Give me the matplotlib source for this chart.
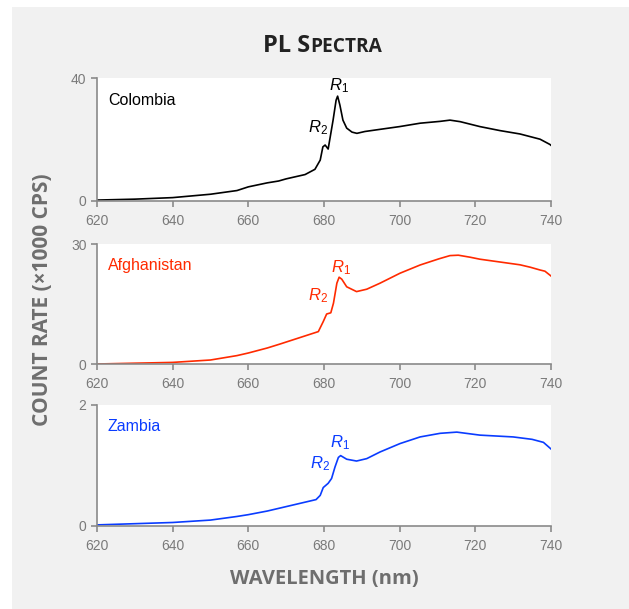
import numpy as np
import matplotlib.pyplot as plt
from matplotlib.patches import Rectangle

# PL spectra for three localities (count rate in units of 1000 cps)
colombia_nm = [620, 630, 640, 650, 657, 660, 665, 668, 670, 675, 677.6, 679, 679.7,
               680.3, 681.1, 682.4, 683.2, 683.6, 684.2, 685, 686, 687.4, 688.7,
               690.8, 694.8, 700, 705.4, 710.7, 713.3, 716, 721.2, 726.5, 731.8,
               737.1, 739.7, 740]
colombia_cps = [0.3, 0.6, 1.1, 2.2, 3.4, 4.6, 5.9, 6.5, 7.2, 8.6, 10.3, 13.3, 17.6,
                18.2, 16.9, 26.3, 32.8, 34.1, 31.2, 26.3, 23.7, 22.4, 22.0,
                22.6, 23.3, 24.2, 25.3, 25.9, 26.3, 25.8, 24.2, 22.9, 21.8,
                20.1, 18.4, 18.1]

afghan_nm = [620, 640, 650, 657, 660, 665, 668.4, 678.5, 679.8, 680.7, 681.8, 682.5,
             683.4, 684.0, 684.7, 686.0, 688.6, 691.3, 694.8, 700.1, 705.4, 710.4,
             713.3, 715.5, 718.6, 721.2, 726.5, 731.8, 734.5, 737.1, 738.4, 740]
afghan_cps = [0.0, 0.4, 1.0, 2.1, 2.75, 4.0, 5.0, 8.1, 10.6, 12.5, 12.8, 15.2,
              20.2, 21.7, 21.2, 19.3, 18.1, 18.7, 20.2, 22.7, 24.75, 26.3,
              27.1, 27.2, 26.7, 26.2, 25.5, 24.8, 24.2, 23.5, 23.2, 22.0]

zambia_nm = [620, 640, 650, 657, 660, 665, 668.4, 677.9, 679.0, 679.8, 681.1, 682.0,
             682.9, 683.8, 684.4, 686.0, 688.6, 691.3, 694.8, 700.1, 705.4, 710.7,
             715.1, 721.2, 730, 735, 738, 740]
zambia_cps = [0.01, 0.05, 0.09, 0.15, 0.18, 0.24, 0.29, 0.43, 0.50, 0.63, 0.70, 0.78,
              0.97, 1.13, 1.16, 1.10, 1.07, 1.11, 1.22, 1.36, 1.47, 1.53,
              1.55, 1.50, 1.47, 1.43, 1.38, 1.27]

samples = ['Colombia', 'Afghanistan', 'Zambia']
colors = ['#000000', '#ff2a00', '#0a3cff']
y_max = [40, 30, 2]
# label positions for the R1 / R2 lines: (x, y) in data units
r1_pos = [(684.0, 37.4), (684.6, 24.2), (684.3, 1.38)]
r2_pos = [(678.4, 23.7), (678.4, 17.0), (678.9, 1.02)]

plt.rcParams['mathtext.fontset'] = 'custom'
plt.rcParams['mathtext.rm'] = 'Liberation Sans'
plt.rcParams['mathtext.it'] = 'Liberation Sans:italic'

fig = plt.figure(figsize=(6.29, 6.09), dpi=100, facecolor='white')
fig.patches.append(Rectangle((12 / 629, 0), 1, 1 - 7 / 609, transform=fig.transFigure,
                             facecolor='#f1f1f1', edgecolor='none', zorder=-10))

grey = '#8a8a8a'
left, width = 97 / 629, 454 / 629
boxes = [(78, 201), (244, 364), (405, 525.5)]
data = [(colombia_nm, colombia_cps), (afghan_nm, afghan_cps), (zambia_nm, zambia_cps)]

for i in range(3):
    top, bottom = boxes[i]
    ax = fig.add_axes([left, 1 - bottom / 609, width, (bottom - top) / 609])
    ax.set_facecolor('white')
    x, y = data[i]
    ax.plot(x, y, color=colors[i], linewidth=1.2)
    ax.set_xlim(620, 740)
    ax.set_ylim(0, y_max[i])
    ax.set_xticks(np.arange(620, 741, 20))
    ax.set_yticks([0, y_max[i]])
    for side in ['top', 'right']:
        ax.spines[side].set_visible(False)
    for side in ['left', 'bottom']:
        ax.spines[side].set_color(grey)
        ax.spines[side].set_linewidth(1.2)
    ax.tick_params(direction='out', length=4.5, width=1.2, color=grey,
                   labelcolor='#7a7a7a', labelsize=10)
    ax.tick_params(axis='x', pad=5)
    ax.tick_params(axis='y', pad=3)
    for lab in ax.get_xticklabels() + ax.get_yticklabels():
        lab.set_fontfamily('Liberation Sans')

    ax.text(0.024, 0.82, samples[i], transform=ax.transAxes, color=colors[i],
            fontsize=11.5, family='Liberation Sans', va='center', ha='left')
    ax.text(*r1_pos[i], r'$R_1$', color=colors[i], fontsize=12, ha='center', va='center')
    ax.text(*r2_pos[i], r'$R_2$', color=colors[i], fontsize=12, ha='center', va='center')

# small-caps style title
fig.text(310 / 629, 1 - 52 / 609, 'PL S', fontsize=17, fontweight='bold',
         family='Open Sans', color='#222222', ha='right', va='baseline')
fig.text(310 / 629, 1 - 52 / 609, 'PECTRA', fontsize=13.8, fontweight='bold',
         family='Open Sans', color='#222222', ha='left', va='baseline')

fig.text(43 / 629, 1 - 300 / 609, 'COUNT RATE (×1000 CPS)', rotation=90, fontsize=15,
         fontweight='bold', family='Open Sans', color='#6e6e6e', ha='center', va='center')
fig.text(324 / 629, 1 - 579 / 609, 'WAVELENGTH (nm)', fontsize=14.5, fontweight='bold',
         family='Open Sans', color='#6e6e6e', ha='center', va='center')

fig.savefig('out.png', dpi=100, facecolor=fig.get_facecolor())
